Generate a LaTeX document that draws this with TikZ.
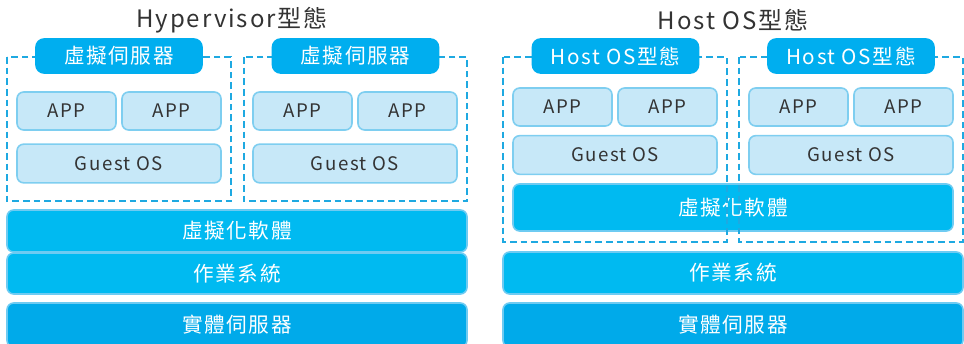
\documentclass[tikz,border=0pt]{standalone}
\usepackage{fontspec}
\setmainfont{Noto Sans CJK TC}[LetterSpace=8]

\definecolor{labelblue}{RGB}{0,174,239}
\definecolor{barblue}{RGB}{0,186,241}
\definecolor{hwblue}{RGB}{0,170,234}
\definecolor{barline}{RGB}{110,203,242}
\definecolor{appfill}{RGB}{199,232,248}
\definecolor{appline}{RGB}{126,206,240}
\definecolor{dashblue}{RGB}{30,169,225}
\definecolor{textgray}{RGB}{51,51,51}

\begin{document}
\begin{tikzpicture}[
       x=0.75pt, y=-0.75pt,
       box_style/.style={inner sep=0pt, outer sep=0pt, rounded corners=5pt, line width=1.2pt}, % 方塊共用樣式
       app_style/.style={box_style, draw=appline, fill=appfill, text=textgray, font=\fontsize{14}{16}\selectfont, minimum width=74.25pt, minimum height=28.5pt}, % APP
       guest_style/.style={app_style, minimum width=153pt, minimum height=29pt}, % Guest OS
       bar_style/.style={box_style, draw=barline, fill=barblue, text=white, font=\fontsize{15.5}{18}\selectfont, minimum width=345pt, minimum height=31.5pt}, % 橫向層
       hw_style/.style={bar_style, fill=hwblue, minimum height=33pt}, % 實體伺服器
       label_style/.style={box_style, rounded corners=6pt, draw=labelblue, fill=labelblue, text=white, font=\fontsize{15.5}{18}\selectfont, minimum width=124.5pt, minimum height=25.5pt}, % 虛擬機標籤
       dash_style/.style={draw=dashblue, line width=1.2pt, dash pattern=on 5pt off 3pt}, % 虛線框
       title_style/.style={text=textgray, font=\fontsize{18}{20}\selectfont} % 標題
   ]

   \useasboundingbox (0,0) rectangle (964,343);

   % 1. 左側:Hypervisor型態
   \node[title_style] (hv_title) at (232,20) {Hypervisor型態};

   \draw[dash_style] (7,57) rectangle (231,201);
   \draw[dash_style] (244,57) rectangle (467,201);

   \node[label_style] (hv_vm1) at (119,56) {虛擬伺服器};
   \node[label_style] (hv_vm2) at (355.5,56) {虛擬伺服器};

   \node[app_style] (hv_app1) at (66.5,111) {APP};
   \node[app_style] (hv_app2) at (171.5,111) {APP};
   \node[guest_style] (hv_guest1) at (119,163.5) {Guest OS};

   \node[app_style] (hv_app3) at (302.5,111) {APP};
   \node[app_style] (hv_app4) at (407.5,111) {APP};
   \node[guest_style] (hv_guest2) at (355,163.5) {Guest OS};

   \node[bar_style] (hv_virt) at (237,231) {虛擬化軟體};
   \node[bar_style, minimum height=30.75pt] (hv_os) at (237,273.5) {作業系統};
   \node[hw_style] (hv_hw) at (237,325) {實體伺服器};

   % 2. 右側:Host OS型態
   \node[title_style] (ho_title) at (733,20) {Host OS型態};

   % 虛擬化軟體先畫,虛線框疊在上面
   \node[bar_style, minimum width=330pt, minimum height=35.25pt] (ho_virt) at (733,207.5) {虛擬化軟體};

   \draw[dash_style] (503,57) rectangle (727,242);
   \draw[dash_style] (739,57) rectangle (963,242);

   \node[label_style] (ho_vm1) at (615.5,56) {Host OS型態};
   \node[label_style] (ho_vm2) at (851,56) {Host OS型態};

   \node[app_style] (ho_app1) at (562.5,107) {APP};
   \node[app_style] (ho_app2) at (667.5,107) {APP};
   \node[guest_style] (ho_guest1) at (615,155) {Guest OS};

   \node[app_style] (ho_app3) at (798.5,107) {APP};
   \node[app_style] (ho_app4) at (903.5,107) {APP};
   \node[guest_style] (ho_guest2) at (851,155) {Guest OS};

   \node[bar_style] (ho_os) at (733,273) {作業系統};
   \node[hw_style] (ho_hw) at (733,325) {實體伺服器};

   \end{tikzpicture}
\end{document}
